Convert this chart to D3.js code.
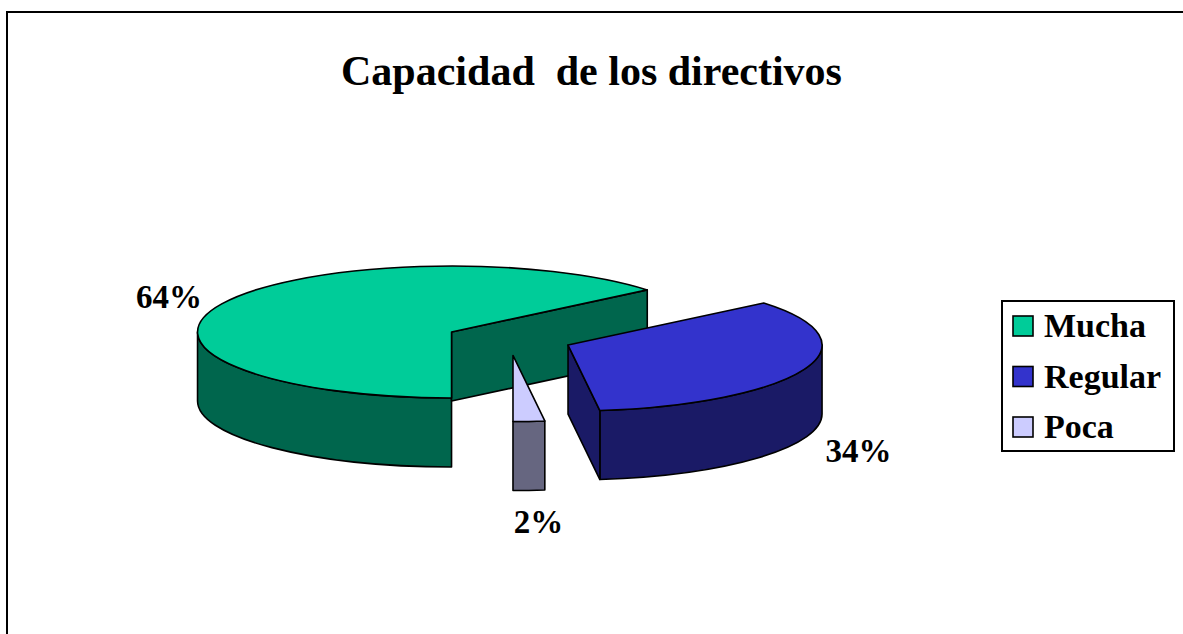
<!DOCTYPE html>
<html>
<head>
<meta charset="utf-8">
<script src="https://cdn.jsdelivr.net/npm/d3@7"></script>
<style>
  body { margin: 0; background: #fff; overflow: hidden; }
  svg { display: block; }
  text { font-family: "Times New Roman", "Liberation Serif", serif; font-weight: bold; }
</style>
</head>
<body>
<script>
const categories = ["Mucha", "Regular", "Poca"];
const values = [64, 34, 2];
const valueLabels = ["64%", "34%", "2%"];

const width = 1183, height = 634;
const topColors = d3.scaleOrdinal().domain(categories).range(["#00cc99", "#3333cc", "#ccccff"]);
const sideColors = d3.scaleOrdinal().domain(categories).range(["#00664d", "#1a1a66", "#666680"]);

// 3d pie geometry
const C = [509, 339], rx = 254, ry = 66, depth = 69, explode = 0.25;

const svg = d3.select("body").append("svg")
  .attr("width", width)
  .attr("height", height);

// chart frame, only the top and left edges fall inside the page
svg.append("path")
  .attr("d", `M7,${height + 5}V12H${width + 5}`)
  .attr("fill", "none").attr("stroke", "#000").attr("stroke-width", 2);

svg.append("text")
  .attr("x", width / 2).attr("y", 85)
  .attr("text-anchor", "middle")
  .attr("font-size", 42)
  .style("white-space", "pre")
  .text("Capacidad  de los directivos");

const data = categories.map((c, i) => ({ cat: c, value: values[i], label: valueLabels[i] }));
const arcs = d3.pie().sort(null).value(d => d.value)
  .startAngle(Math.PI).endAngle(3 * Math.PI)(data);

function pt(c, a, k = 1) {
  return [c[0] + k * rx * Math.sin(a), c[1] - k * ry * Math.cos(a)];
}
const down = p => [p[0], p[1] + depth];

arcs.forEach(d => {
  d.mid = (d.startAngle + d.endAngle) / 2;
  d.c = pt(C, d.mid, explode);
});

const pie = svg.append("g")
  .attr("stroke", "#000")
  .attr("stroke-width", 1.6)
  .attr("stroke-linejoin", "round");

arcs.slice().sort((a, b) => a.c[1] - b.c[1]).forEach(d => {
  const g = pie.append("g");
  const c = d.c, a0 = d.startAngle, a1 = d.endAngle;
  const side = sideColors(d.data.cat);

  // outer wall, only the front half shows
  [0, 1].forEach(k => {
    const lo = Math.max(a0, Math.PI / 2 + 2 * Math.PI * k);
    const hi = Math.min(a1, 3 * Math.PI / 2 + 2 * Math.PI * k);
    if (hi <= lo) return;
    const p = pt(c, lo), q = pt(c, hi);
    g.append("path")
      .attr("fill", side)
      .attr("d", `M${p}A${rx},${ry} 0 0 1 ${q}L${down(q)}A${rx},${ry} 0 0 0 ${down(p)}Z`);
  });

  // cut faces
  const face = a => {
    const p = pt(c, a);
    g.append("path")
      .attr("fill", side)
      .attr("d", `M${c}L${p}L${down(p)}L${down(c)}Z`);
  };
  if (Math.sin(a0) < -1e-6) face(a0);
  if (Math.sin(a1) > 1e-6) face(a1);

  // top
  const p0 = pt(c, a0), p1 = pt(c, a1);
  g.append("path")
    .attr("fill", topColors(d.data.cat))
    .attr("d", `M${c}L${p0}A${rx},${ry} 0 ${a1 - a0 > Math.PI ? 1 : 0} 1 ${p1}Z`);
});

// percentage labels
arcs.forEach(d => {
  const s = Math.sin(d.mid), co = Math.cos(d.mid);
  const p = pt(d.c, d.mid, 1.1);
  if (co < 0) p[1] += depth;
  const x = p[0] + 33 * s + (co < -0.9 ? 6 : 0);
  const y = p[1] - 11 * co + (co < 0 ? -14 * co : 0);
  svg.append("text")
    .attr("x", x).attr("y", y)
    .attr("dy", "0.35em")
    .attr("text-anchor", "middle")
    .attr("font-size", 33)
    .text(d.data.label);
});

// legend
const legend = svg.append("g").attr("transform", "translate(1002,301)");
legend.append("rect")
  .attr("width", 172).attr("height", 150)
  .attr("fill", "#fff").attr("stroke", "#000").attr("stroke-width", 2);

const rows = legend.selectAll("g.row").data(categories).join("g")
  .attr("class", "row")
  .attr("transform", (d, i) => `translate(0,${25 + i * 50.5})`);
rows.append("rect")
  .attr("x", 11).attr("y", -10)
  .attr("width", 20).attr("height", 20)
  .attr("fill", d => topColors(d))
  .attr("stroke", "#000").attr("stroke-width", 1.6);
rows.append("text")
  .attr("x", 42).attr("dy", "0.33em")
  .attr("font-size", 34)
  .text(d => d);
</script>
</body>
</html>
